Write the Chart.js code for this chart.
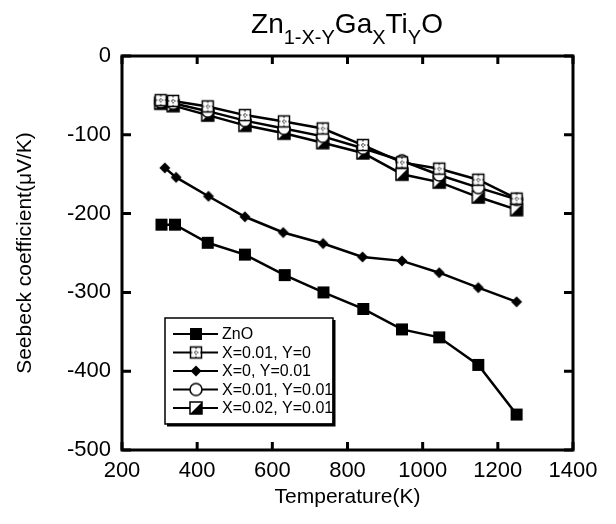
<!DOCTYPE html>
<html>
<head>
<meta charset="utf-8">
<script src="https://cdn.jsdelivr.net/npm/chart.js@4/dist/chart.umd.min.js"></script>
<style>
html, body { margin: 0; padding: 0; background: #fff; }
</style>
</head>
<body>
<canvas id="c" width="616" height="524"></canvas>
<script>
// data
const tempZnO = [305, 341, 428, 527, 633, 736, 842, 945, 1044, 1148, 1250];
const tempTi = [314, 344, 430, 527, 629, 735, 840, 945, 1044, 1148, 1250];
const tempGa = [303, 336, 428, 527, 631, 734, 841, 945, 1044, 1148, 1250];

const sZnO = [-214, -214, -237, -252, -278, -300, -321, -347, -357, -392, -455];
const sX0Y001 = [-142, -154, -178, -204, -224, -238, -255, -260, -275, -294, -312];
const sX001Y0 = [-56, -57, -64, -75, -83, -92, -113, -135, -143, -157, -181];
const sX001Y001 = [-58, -60, -70, -82, -92, -102, -117, -133, -151, -167, -182];
const sX002Y001 = [-60, -63, -75, -88, -98, -110, -123, -150, -160, -179, -195];

const labels = ['ZnO', 'X=0.01, Y=0', 'X=0, Y=0.01', 'X=0.01, Y=0.01', 'X=0.02, Y=0.01'];
const xTicks = [200, 400, 600, 800, 1000, 1200, 1400];
const yTicks = [0, -100, -200, -300, -400, -500];

// marker images
function marker(kind) {
    const s = 16;
    const cv = document.createElement('canvas');
    cv.width = s; cv.height = s;
    const g = cv.getContext('2d');
    const c = s / 2;
    g.strokeStyle = '#000';
    g.fillStyle = '#000';
    g.lineWidth = 1.5;
    if (kind === 'square') {
        g.fillRect(c - 6, c - 6, 12, 12);
    } else if (kind === 'diamond') {
        g.beginPath();
        g.moveTo(c, c - 5.5); g.lineTo(c + 5.5, c); g.lineTo(c, c + 5.5); g.lineTo(c - 5.5, c);
        g.closePath(); g.fill();
    } else if (kind === 'cross') {
        g.fillStyle = '#fff';
        g.fillRect(c - 5.5, c - 5.5, 11, 11);
        g.strokeRect(c - 5.5, c - 5.5, 11, 11);
        g.lineWidth = 1;
        g.setLineDash([1.5, 1.5]);
        g.beginPath();
        g.moveTo(c, c - 5); g.lineTo(c, c + 5);
        g.moveTo(c - 5, c); g.lineTo(c + 5, c);
        g.stroke();
    } else if (kind === 'circle') {
        g.fillStyle = '#fff';
        g.beginPath();
        g.arc(c, c, 6, 0, Math.PI * 2);
        g.fill(); g.stroke();
    } else if (kind === 'half') {
        g.fillStyle = '#fff';
        g.fillRect(c - 6, c - 6, 12, 12);
        g.fillStyle = '#000';
        g.beginPath();
        g.moveTo(c + 6, c - 6); g.lineTo(c + 6, c + 6); g.lineTo(c - 6, c + 6);
        g.closePath(); g.fill();
        g.strokeRect(c - 6, c - 6, 12, 12);
    }
    return cv;
}

const markers = [marker('square'), marker('cross'), marker('diamond'), marker('circle'), marker('half')];
const temps = [tempZnO, tempGa, tempTi, tempGa, tempGa];
const values = [sZnO, sX001Y0, sX0Y001, sX001Y001, sX002Y001];

const datasets = labels.map((lab, i) => ({
    label: lab,
    data: temps[i].map((t, j) => ({ x: t, y: values[i][j] })),
    borderColor: '#000',
    borderWidth: 2.5,
    pointStyle: markers[i],
    pointRadius: 6,
    tension: 0
}));

const frame = {
    id: 'frame',
    afterDraw(chart) {
        const ctx = chart.ctx;
        const a = chart.chartArea;
        const xs = chart.scales.x, ys = chart.scales.y;
        ctx.save();
        ctx.strokeStyle = '#000';
        ctx.lineWidth = 3;
        ctx.strokeRect(a.left, a.top, a.right - a.left, a.bottom - a.top);
        // inward ticks on all sides
        ctx.beginPath();
        xTicks.forEach(v => {
            const px = xs.getPixelForValue(v);
            ctx.moveTo(px, a.bottom); ctx.lineTo(px, a.bottom - 8);
            ctx.moveTo(px, a.top); ctx.lineTo(px, a.top + 8);
        });
        yTicks.forEach(v => {
            const py = ys.getPixelForValue(v);
            ctx.moveTo(a.left, py); ctx.lineTo(a.left + 9, py);
            ctx.moveTo(a.right, py); ctx.lineTo(a.right - 9, py);
        });
        ctx.stroke();

        // title with subscripts
        const parts = [['Zn', 0], ['1-X-Y', 1], ['Ga', 0], ['X', 1], ['Ti', 0], ['Y', 1], ['O', 0]];
        const big = '28px "Liberation Sans", Arial, sans-serif';
        const small = '20px "Liberation Sans", Arial, sans-serif';
        let w = 0;
        parts.forEach(p => { ctx.font = p[1] ? small : big; w += ctx.measureText(p[0]).width; });
        let x = 347 - w / 2;
        ctx.fillStyle = '#000';
        ctx.textBaseline = 'alphabetic';
        ctx.textAlign = 'left';
        parts.forEach(p => {
            ctx.font = p[1] ? small : big;
            ctx.fillText(p[0], x, p[1] ? 44 : 33);
            x += ctx.measureText(p[0]).width;
        });

        // legend box
        const lx = 165, ly = 318, lw = 168, lh = 106;
        ctx.fillStyle = '#fff';
        ctx.fillRect(lx, ly, lw, lh);
        ctx.lineWidth = 1.5;
        ctx.strokeRect(lx, ly, lw, lh);
        ctx.lineWidth = 3;
        ctx.beginPath();
        ctx.moveTo(lx + 2, ly + lh + 1); ctx.lineTo(lx + lw + 1, ly + lh + 1); ctx.lineTo(lx + lw + 1, ly + 2);
        ctx.stroke();
        ctx.font = '16px "Liberation Sans", Arial, sans-serif';
        ctx.textBaseline = 'middle';
        labels.forEach((lab, i) => {
            const y = 334 + i * 18.5;
            ctx.lineWidth = 2;
            ctx.beginPath();
            ctx.moveTo(173, y); ctx.lineTo(218, y);
            ctx.stroke();
            ctx.drawImage(markers[i], 196 - 8, y - 8);
            ctx.fillStyle = '#000';
            ctx.fillText(lab, 222, y + 1);
        });
        ctx.restore();
    }
};

new Chart(document.getElementById('c'), {
    type: 'line',
    data: { datasets },
    options: {
        responsive: false,
        animation: false,
        layout: { padding: { left: 8, top: 56, right: 43, bottom: 0 } },
        plugins: { legend: { display: false }, tooltip: { enabled: false } },
        scales: {
            x: {
                type: 'linear',
                min: 200, max: 1400,
                afterFit: s => { s.height = 74; },
                afterBuildTicks: s => { s.ticks = xTicks.map(v => ({ value: v })); },
                grid: { display: false, drawTicks: false, tickLength: 0 },
                border: { display: false },
                ticks: { color: '#000', padding: 8, maxRotation: 0, autoSkip: false,
                    callback: v => String(v),
                    font: { family: '"Liberation Sans", Arial, sans-serif', size: 22 } },
                title: { display: true, text: 'Temperature(K)', color: '#000',
                    padding: { top: 0, bottom: 14 },
                    font: { family: '"Liberation Sans", Arial, sans-serif', size: 21 } }
            },
            y: {
                min: -500, max: 0,
                afterFit: s => { s.width = 114; },
                afterBuildTicks: s => { s.ticks = yTicks.map(v => ({ value: v })); },
                grid: { display: false, drawTicks: false, tickLength: 0 },
                border: { display: false },
                ticks: { color: '#000', padding: 11, autoSkip: false,
                    callback: v => String(v),
                    font: { family: '"Liberation Sans", Arial, sans-serif', size: 22 } },
                title: { display: true, text: 'Seebeck coefficient(\u03BCV/K)', color: '#000',
                    padding: { top: 5, bottom: 0 },
                    font: { family: '"Liberation Sans", Arial, sans-serif', size: 21 } }
            }
        }
    },
    plugins: [frame]
});
</script>
</body>
</html>
